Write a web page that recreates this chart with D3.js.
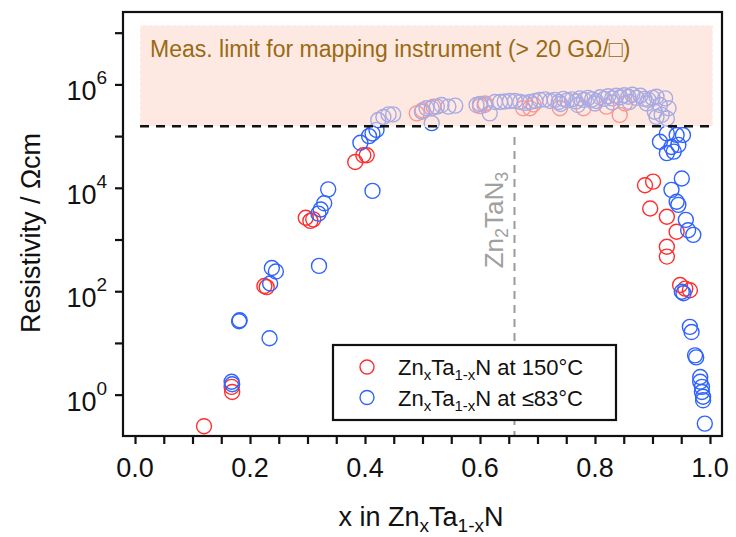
<!DOCTYPE html>
<html><head><meta charset="utf-8">
<script src="https://cdn.jsdelivr.net/npm/d3@7"></script>
<style>html,body{margin:0;padding:0;background:#fff;} svg{display:block;font-family:"Liberation Sans",Arial,sans-serif;}</style>
</head><body><svg id="c" width="736" height="537"></svg>
<script>
// ---- data ----
const xTickValues = [0, 0.2, 0.4, 0.6, 0.8, 1.0];
const xTickLabels = ["0.0", "0.2", "0.4", "0.6", "0.8", "1.0"];
const xMinorTicks = [0,0.05,0.1,0.15,0.2,0.25,0.3,0.35,0.4,0.45,0.5,0.55,0.6,0.65,0.7,0.75,0.8,0.85,0.9,0.95,1.0];
const yTickExponents = [0,1,2,3,4,5,6,7];
const yLabelExponents = [0,2,4,6];
const measLimitRho = 1.55e5;          // dashed limit line
const limitBandTopRho = 1.4e7;        // top of shaded band
const limitBandX = [0.0087, 1.005];
const zn2tan3X = 0.66;

// ZnxTa1-xN at 150 °C  (x, log10 resistivity)
const xRed = [0.120,0.168,0.169,0.225,0.229,0.297,0.305,0.310,0.383,0.397,0.403,
  0.490,0.500,0.519,0.600,0.609,0.675,0.687,0.693,0.739,0.780,0.820,0.843,0.852,
  0.887,0.901,0.896,0.925,0.942,0.925,0.925,0.948,0.957,0.965];
const logRhoRed = [-0.61,0.15,0.05,2.10,2.08,3.42,3.36,3.39,4.50,4.63,4.63,
  5.44,5.50,5.57,5.58,5.63,5.54,5.54,5.61,5.54,5.54,5.57,5.41,5.63,
  4.05,4.12,3.60,3.44,3.15,2.86,2.67,2.12,2.05,2.02];

// ZnxTa1-xN at <=83 °C  (x, log10 resistivity)
const xBlue = [0.168,0.169,0.181,0.182,0.234,0.235,0.238,0.245,0.319,0.323,0.329,0.336,0.320,0.413,0.392,0.407,0.413,0.420,0.516,
  0.423,0.432,0.441,0.449,0.499,0.507,0.516,0.525,0.533,0.545,0.557,0.594,0.600,0.608,0.617,0.626,0.635,0.643,0.652,0.661,0.670,0.678,0.687,0.696,0.704,0.713,
  0.722,0.730,0.737,0.745,0.752,0.760,0.767,0.774,0.781,0.788,0.795,0.802,0.809,0.816,0.823,0.830,0.837,0.844,0.851,0.858,0.865,0.872,0.879,0.886,0.893,0.900,0.907,
  0.913,0.922,0.928,0.904,0.907,0.916,0.925,0.740,0.770,0.800,0.830,0.860,0.890,
  0.913,0.925,0.942,0.953,0.933,0.925,0.937,0.945,0.951,0.933,0.942,0.945,0.958,0.962,0.971,0.951,0.954,0.965,0.968,0.974,0.976,0.983,0.983,0.986,0.986,0.988,0.988,0.991];
const logRhoBlue = [0.25,0.20,1.42,1.44,1.09,2.15,2.45,2.38,3.50,3.58,3.70,3.97,2.49,3.94,4.87,5.00,5.05,5.12,5.25,
  5.31,5.37,5.42,5.42,5.47,5.54,5.54,5.57,5.60,5.57,5.59,5.60,5.62,5.60,5.44,5.66,5.66,5.67,5.68,5.68,5.66,5.64,5.66,5.68,5.70,5.71,
  5.68,5.70,5.66,5.72,5.69,5.71,5.67,5.73,5.70,5.74,5.71,5.68,5.75,5.72,5.77,5.73,5.78,5.75,5.79,5.76,5.80,5.74,5.78,5.72,5.70,5.74,5.76,
  5.60,5.73,5.54,5.47,5.37,5.41,5.34,5.62,5.60,5.63,5.65,5.66,5.63,
  4.89,5.05,5.02,5.02,4.79,4.67,4.70,4.83,4.18,3.96,3.73,3.67,3.38,3.18,3.09,1.99,1.96,1.31,1.21,0.76,0.72,0.34,0.25,0.15,0.05,-0.04,-0.11,-0.56];

const seriesRed = xRed.map((x,i)=>({x, rho: Math.pow(10, logRhoRed[i])}));
const seriesBlue = xBlue.map((x,i)=>({x, rho: Math.pow(10, logRhoBlue[i])}));

// ---- layout ----
const L = 123, R = 722, T = 12, B = 436;
const RED = "#ff2e2e", BLUE = "#2f62ff";
const svg = d3.select("#c");
const x = d3.scaleLinear().domain([-0.0209, 1.0209]).range([L, R]);
const y = d3.scaleLog().domain([Math.pow(10,-0.80), Math.pow(10,7.40)]).range([B, T]);

// points
const gPts = svg.append("g");
gPts.selectAll("circle.r").data(seriesRed).join("circle").attr("class","r")
  .attr("cx", d=>x(d.x)).attr("cy", d=>y(d.rho)).attr("r", 7.5)
  .attr("fill","none").attr("stroke",RED).attr("stroke-width",1.4);
gPts.selectAll("circle.b").data(seriesBlue).join("circle").attr("class","b")
  .attr("cx", d=>x(d.x)).attr("cy", d=>y(d.rho)).attr("r", 7.5)
  .attr("fill","none").attr("stroke",BLUE).attr("stroke-width",1.4);

// shaded limit band
svg.append("rect")
  .attr("x", x(limitBandX[0])).attr("y", y(limitBandTopRho))
  .attr("width", x(limitBandX[1]) - x(limitBandX[0]))
  .attr("height", y(measLimitRho) - y(limitBandTopRho))
  .attr("fill","rgb(252,218,207)").attr("fill-opacity",0.6)
  .attr("stroke","#fff").attr("stroke-width",1).attr("stroke-dasharray","3,3");

// dashed limit line
svg.append("line")
  .attr("x1", x(limitBandX[0])).attr("x2", x(limitBandX[1]))
  .attr("y1", y(measLimitRho)).attr("y2", y(measLimitRho))
  .attr("stroke","#111").attr("stroke-width",2.5).attr("stroke-dasharray","9,7");

svg.append("text").attr("x",150).attr("y",57)
  .attr("font-size",23).attr("fill","#9a6a12")
  .text("Meas. limit for mapping instrument (> 20 GΩ/□)");

// Zn2TaN3 line
svg.append("line")
  .attr("x1", x(zn2tan3X)).attr("x2", x(zn2tan3X))
  .attr("y1", 137).attr("y2", B)
  .attr("stroke","#9a9a9a").attr("stroke-width",2).attr("stroke-dasharray","8,6");
const zt = svg.append("text")
  .attr("transform", `translate(${x(zn2tan3X)-11},220) rotate(-90)`)
  .attr("text-anchor","middle").attr("font-size",26).attr("fill","#a0a0a0");
zt.append("tspan").text("Zn");
zt.append("tspan").attr("font-size",18).attr("dy",5).text("2");
zt.append("tspan").attr("dy",-5).text("TaN");
zt.append("tspan").attr("font-size",18).attr("dy",5).text("3");

// frame
svg.append("rect").attr("x",L).attr("y",T).attr("width",R-L).attr("height",B-T)
  .attr("fill","none").attr("stroke","#111").attr("stroke-width",2.2);

// y axis ticks + labels
const yAx = d3.axisLeft(y).tickValues(yTickExponents.map(e=>Math.pow(10,e)))
  .tickSize(8).tickFormat("");
const gy = svg.append("g").attr("transform",`translate(${L},0)`).call(yAx);
gy.select(".domain").remove();
gy.selectAll(".tick line").attr("stroke","#111").attr("stroke-width",2.2);
yLabelExponents.forEach(e=>{
  const t = svg.append("text").attr("x",107).attr("y", y(Math.pow(10,e))+16)
    .attr("text-anchor","end").attr("font-size",27).attr("fill","#111");
  t.append("tspan").text("10");
  t.append("tspan").attr("font-size",19).attr("dy",-16).text(String(e));
});

// x axis ticks + labels
const xAx = d3.axisBottom(x).tickValues(xMinorTicks).tickSize(8).tickFormat("");
const gx = svg.append("g").attr("transform",`translate(0,${B})`).call(xAx);
gx.select(".domain").remove();
gx.selectAll(".tick line").attr("stroke","#111").attr("stroke-width",2.2);
svg.append("g").selectAll("text").data(xTickValues).join("text")
  .attr("x", d=>x(d)).attr("y", 477).attr("text-anchor","middle")
  .attr("font-size",27).attr("fill","#111")
  .text((d,i)=>xTickLabels[i]);

// axis titles
svg.append("text").attr("transform","translate(40,233) rotate(-90)")
  .attr("text-anchor","middle").attr("font-size",27).attr("fill","#111")
  .text("Resistivity / Ωcm");
const xt = svg.append("text").attr("x",421).attr("y",526)
  .attr("text-anchor","middle").attr("font-size",27).attr("fill","#111");
xt.append("tspan").text("x in Zn");
xt.append("tspan").attr("font-size",19).attr("dy",6).text("x");
xt.append("tspan").attr("dy",-6).text("Ta");
xt.append("tspan").attr("font-size",19).attr("dy",6).text("1-x");
xt.append("tspan").attr("dy",-6).text("N");

// legend
const legendLabels = [["at 150°C", RED], ["at ≤83°C", BLUE]];
svg.append("rect").attr("x",333).attr("y",345).attr("width",283).attr("height",75)
  .attr("fill","#fff").attr("stroke","#111").attr("stroke-width",2.2);
legendLabels.forEach(([lab,col],i)=>{
  const cy = 367 + i*30.5;
  svg.append("circle").attr("cx",367).attr("cy",cy).attr("r",7)
    .attr("fill","none").attr("stroke",col).attr("stroke-width",1.4);
  const t = svg.append("text").attr("x",398).attr("y",cy+8)
    .attr("font-size",22).attr("fill","#111");
  t.append("tspan").text("Zn");
  t.append("tspan").attr("font-size",15).attr("dy",5).text("x");
  t.append("tspan").attr("dy",-5).text("Ta");
  t.append("tspan").attr("font-size",15).attr("dy",5).text("1-x");
  t.append("tspan").attr("dy",-5).text("N " + lab);
});
</script></body></html>
